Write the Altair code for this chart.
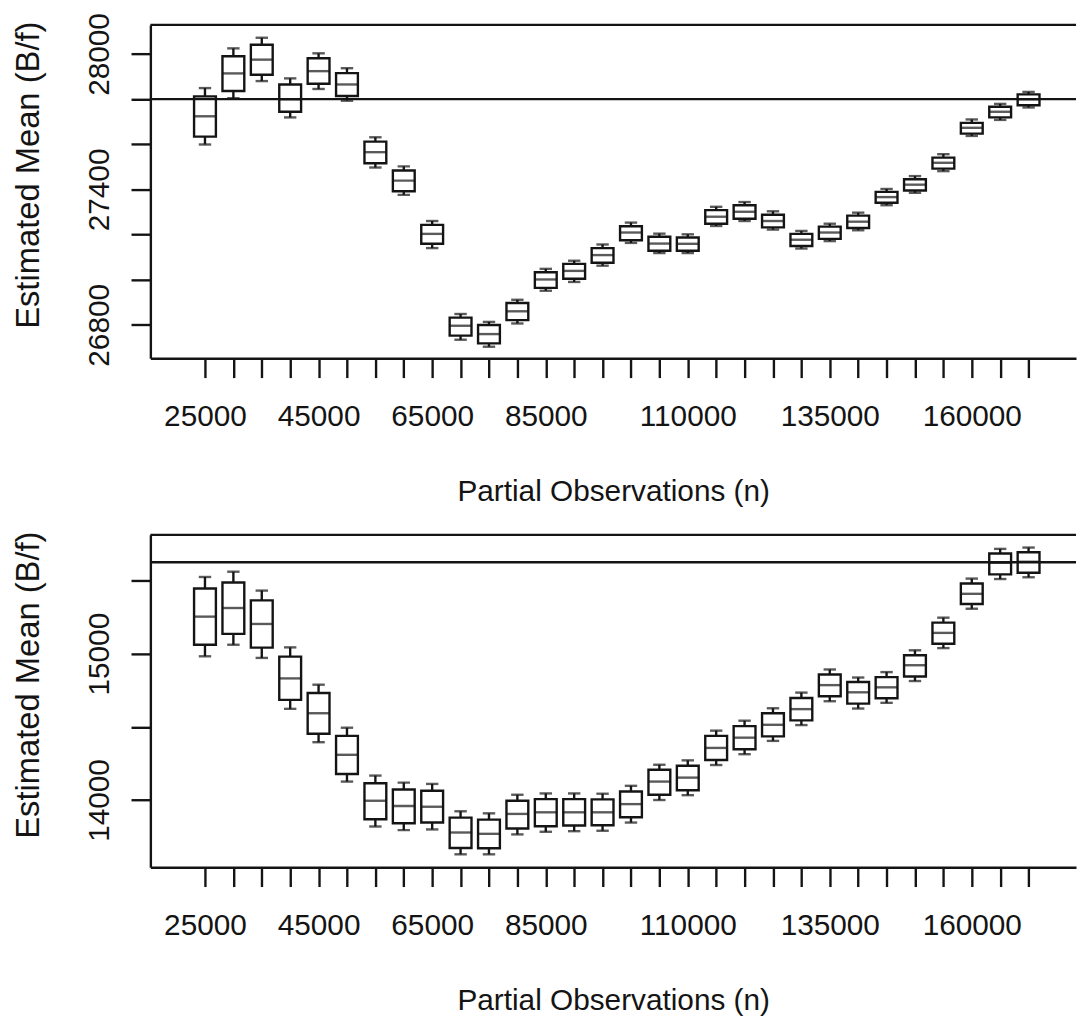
import altair as alt
import pandas as pd

# ---------------- data ----------------
n_values = [25000, 30000, 35000, 40000, 45000, 50000, 55000, 60000, 65000, 70000,
            75000, 80000, 85000, 90000, 95000, 100000, 105000, 110000, 115000, 120000,
            125000, 130000, 135000, 140000, 145000, 150000, 155000, 160000, 165000, 170000]
shown_n_labels = [25000, 45000, 65000, 85000, 110000, 135000, 160000]

# top panel: whisker low, Q1, median, Q3, whisker high
top_low = [27599, 27804, 27880, 27719, 27845, 27793, 27497, 27376, 27140, 26734,
           26703, 26806, 26951, 26990, 27062, 27163, 27118, 27118, 27238, 27260,
           27222, 27138, 27171, 27219, 27330, 27385, 27481, 27637, 27708, 27763]
top_q1 = [27634, 27836, 27908, 27744, 27868, 27814, 27516, 27392, 27159, 26752,
          26718, 26821, 26964, 27004, 27075, 27175, 27128, 27128, 27248, 27270,
          27232, 27149, 27181, 27229, 27341, 27395, 27492, 27647, 27719, 27773]
top_med = [27724, 27914, 27975, 27799, 27924, 27865, 27565, 27439, 27203, 26796,
           26759, 26860, 27001, 27039, 27109, 27209, 27160, 27159, 27279, 27301,
           27260, 27177, 27209, 27257, 27366, 27421, 27518, 27673, 27744, 27799]
top_q3 = [27812, 27990, 28041, 27865, 27981, 27915, 27612, 27484, 27243, 26832,
          26799, 26897, 27033, 27070, 27140, 27237, 27190, 27187, 27308, 27330,
          27288, 27203, 27235, 27284, 27389, 27445, 27541, 27695, 27766, 27821]
top_high = [27849, 28025, 28072, 27892, 28003, 27937, 27631, 27502, 27260, 26848,
            26813, 26911, 27048, 27084, 27156, 27253, 27204, 27201, 27323, 27344,
            27303, 27216, 27248, 27297, 27402, 27459, 27556, 27710, 27779, 27832]
top_reference = 27800
top_y_domain = [26652, 28129]
top_y_ticks = [26800, 27000, 27200, 27400, 27600, 27800, 28000]
top_y_labels = [26800, 27400, 28000]

# bottom panel
bot_low = [14982, 15061, 14971, 14623, 14395, 14126, 13819, 13794, 13799, 13629,
           13629, 13765, 13783, 13787, 13790, 13846, 14000, 14033, 14239, 14313,
           14404, 14512, 14675, 14625, 14664, 14813, 15038, 15307, 15510, 15522]
bot_q1 = [15061, 15135, 15041, 14684, 14453, 14178, 13869, 13841, 13846, 13672,
          13670, 13805, 13821, 13826, 13828, 13882, 14036, 14067, 14273, 14347,
          14435, 14544, 14709, 14659, 14695, 14844, 15068, 15339, 15542, 15553]
bot_med = [15253, 15312, 15203, 14831, 14593, 14309, 13995, 13959, 13954, 13778,
           13769, 13905, 13916, 13916, 13916, 13972, 14126, 14153, 14356, 14426,
           14514, 14621, 14785, 14736, 14770, 14921, 15142, 15409, 15621, 15628]
bot_q3 = [15445, 15486, 15364, 14980, 14731, 14438, 14115, 14072, 14063, 13880,
          13866, 13995, 14006, 14006, 14004, 14058, 14207, 14234, 14438, 14505,
          14593, 14697, 14858, 14806, 14840, 14989, 15212, 15479, 15684, 15693]
bot_high = [15524, 15560, 15431, 15043, 14788, 14494, 14167, 14119, 14110, 13923,
            13909, 14036, 14045, 14045, 14043, 14097, 14241, 14271, 14474, 14542,
            14627, 14734, 14892, 14837, 14874, 15023, 15246, 15513, 15716, 15725]
bot_reference = 15625
bot_y_domain = [13541, 15812]
bot_y_ticks = [14000, 14500, 15000, 15500]
bot_y_labels = [14000, 15000]

x_domain = [16259, 177480]

# ---------------- style ----------------
FONT = "Liberation Sans"
INK = "#141414"
FS = 30
YTITLE_FS = 33
PLOT_W = 933
BOX_W = 22
CAP_W = 12.5
LW = 2.4


def in_list_expr(values):
    return "indexof([" + ",".join(str(v) for v in values) + "], datum.value) >= 0 ? datum.label : ''"


def panel(low, q1, med, q3, high, ref, ydomain, yticks, ylabels, height):
    df = pd.DataFrame({"n": n_values, "low": low, "q1": q1, "med": med, "q3": q3, "high": high})
    ref_df = pd.DataFrame({"ref": [ref]})

    xaxis = alt.Axis(
        values=n_values, format="d", labelExpr=in_list_expr(shown_n_labels),
        title="Partial Observations (n)", grid=False,
        domain=True, domainColor=INK, domainWidth=LW,
        ticks=True, tickSize=19.5, tickWidth=LW, tickColor=INK,
        labelFont=FONT, labelFontSize=FS, labelColor=INK, labelPadding=48.5,
        labelBaseline="alphabetic", labelAlign="center", labelFlush=False,
        labelOverlap=False, labelBound=False,
        titleFont=FONT, titleFontSize=FS, titleFontWeight="normal", titleColor=INK,
        titleBaseline="alphabetic", titleY=143, titleAlign="center",
    )
    yaxis = alt.Axis(
        values=yticks, format="d", labelExpr=in_list_expr(ylabels),
        title="Estimated Mean (B/f)", grid=False,
        domain=True, domainColor=INK, domainWidth=LW,
        ticks=True, tickSize=19.5, tickWidth=LW, tickColor=INK,
        labelFont=FONT, labelFontSize=FS, labelColor=INK, labelPadding=23.2,
        labelAngle=270, labelAlign="center", labelBaseline="alphabetic",
        labelFlush=False, labelOverlap=False, labelBound=False,
        titleFont=FONT, titleFontSize=YTITLE_FS, titleFontWeight="normal", titleColor=INK,
        titleAngle=270, titleBaseline="alphabetic", titleAlign="center",
        titleX=-113, titleY=151,
    )
    xscale = alt.Scale(domain=x_domain, nice=False, zero=False)
    yscale = alt.Scale(domain=ydomain, nice=False, zero=False)

    def X():
        return alt.X("n:Q", scale=xscale, axis=xaxis)

    def Y(field):
        return alt.Y(field, type="quantitative", scale=yscale, axis=yaxis)

    base = alt.Chart(df)
    whisker = base.mark_rule(color=INK, strokeWidth=LW).encode(x=X(), y=Y("low"), y2="high")
    cap_low = base.mark_tick(color=INK, orient="horizontal", size=CAP_W, thickness=LW).encode(x=X(), y=Y("low"))
    cap_high = base.mark_tick(color=INK, orient="horizontal", size=CAP_W, thickness=LW).encode(x=X(), y=Y("high"))
    box = base.mark_bar(fill="white", stroke=INK, strokeWidth=LW, size=BOX_W, orient="vertical").encode(
        x=X(), y=Y("q1"), y2="q3")
    median = base.mark_tick(color=INK, orient="horizontal", size=BOX_W, thickness=LW).encode(x=X(), y=Y("med"))
    ref_line = alt.Chart(ref_df).mark_rule(color=INK, strokeWidth=LW).encode(y=Y("ref"))
    top_frame = alt.Chart(ref_df).mark_rule(color=INK, strokeWidth=LW).encode(y=alt.value(0))

    return alt.layer(whisker, cap_low, cap_high, box, median, ref_line, top_frame).properties(
        width=PLOT_W, height=height)


top = panel(top_low, top_q1, top_med, top_q3, top_high, top_reference,
            top_y_domain, top_y_ticks, top_y_labels, 336)
bottom = panel(bot_low, bot_q1, bot_med, bot_q3, bot_high, bot_reference,
               bot_y_domain, bot_y_ticks, bot_y_labels, 335)

chart = alt.vconcat(top, bottom, spacing=25).properties(
    background="white",
    padding={"left": 4.5, "top": 0, "right": 0, "bottom": 0},
).configure_view(stroke=None)

chart.save("out.html", embed_options={"renderer": "svg", "actions": False})
